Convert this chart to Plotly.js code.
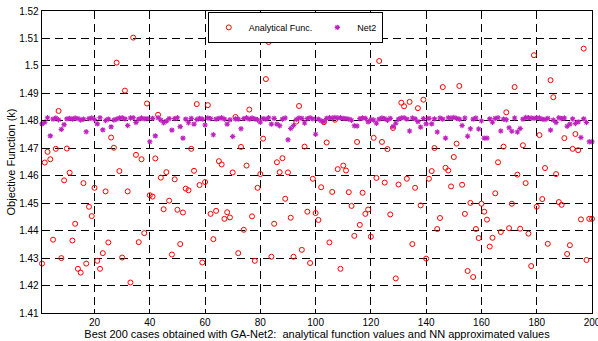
<!DOCTYPE html>
<html>
<head>
<meta charset="utf-8">
<script src="https://cdn.plot.ly/plotly-3.0.1.min.js"></script>
<style>
  html, body { margin: 0; padding: 0; background: #ffffff; }
  #chart { width: 598px; height: 341px; }
</style>
</head>
<body>
<div id="chart"></div>
<script>
// Objective function of the best 200 GA-Net2 cases: analytical values vs. NN approximation
const analyticalFunc = [
  1.4280, 1.4648, 1.4687, 1.4660, 1.4367, 1.4698, 1.4836, 1.4300, 1.4583, 1.4699,
  1.4611, 1.4364, 1.4425, 1.4261, 1.4247, 1.4573, 1.4280, 1.4487, 1.4453, 1.4556,
  1.4290, 1.4261, 1.4318, 1.4543, 1.4357, 1.4739, 1.4702, 1.5012, 1.4617, 1.4302,
  1.4910, 1.4543, 1.4211, 1.5103, 1.4676, 1.4358, 1.4660, 1.4391, 1.4863, 1.4529,
  1.4524, 1.4663, 1.4822, 1.4593, 1.4478, 1.4613, 1.4509, 1.4313, 1.4587, 1.4476,
  1.4351, 1.4466, 1.4553, 1.4547, 1.4698, 1.4618, 1.4861, 1.4566, 1.4284, 1.4577,
  1.4857, 1.4461, 1.4369, 1.4472, 1.4653, 1.4641, 1.4443, 1.4467, 1.4448, 1.4612,
  1.4814, 1.4318, 1.4705, 1.4403, 1.4637, 1.4841, 1.4452, 1.4290, 1.4556, 1.4606,
  1.4735, 1.4952, 1.5087, 1.4305, 1.4425, 1.4649, 1.4613, 1.4664, 1.4516, 1.4612,
  1.4447, 1.4305, 1.4797, 1.4854, 1.4330, 1.4706, 1.4469, 1.4282, 1.4589, 1.4464,
  1.4439, 1.4558, 1.4795, 1.4721, 1.4357, 1.4541, 1.4804, 1.4624, 1.4261, 1.4637,
  1.4619, 1.4540, 1.4490, 1.4381, 1.4723, 1.4421, 1.4538, 1.4461, 1.4477, 1.4378,
  1.4738, 1.4592, 1.5018, 1.4723, 1.4575, 1.4697, 1.4459, 1.4774, 1.4226, 1.4568,
  1.4866, 1.4853, 1.4589, 1.4869, 1.4351, 1.4556, 1.4846, 1.4492, 1.4877, 1.4298,
  1.4589, 1.4617, 1.4701, 1.4406, 1.4446, 1.4923, 1.4629, 1.4619, 1.4561, 1.4668,
  1.4717, 1.4927, 1.4567, 1.4461, 1.4253, 1.4501, 1.4231, 1.4406, 1.4373, 1.4498,
  1.4469, 1.4440, 1.4342, 1.4374, 1.4536, 1.4649, 1.4395, 1.4706, 1.4831, 1.4409,
  1.4498, 1.4923, 1.4604, 1.4407, 1.4711, 1.4573, 1.4389, 1.4271, 1.5039, 1.4487,
  1.4748, 1.4515, 1.4628, 1.4352, 1.4948, 1.4886, 1.4606, 1.4504, 1.4494, 1.4737,
  1.4315, 1.4347, 1.4698, 1.4752, 1.4693, 1.4441, 1.5063, 1.4293, 1.4443, 1.4443
];

const net2 = [
  1.4789, 1.4795, 1.4811, 1.4745, 1.4806, 1.4810, 1.4804, 1.4769, 1.4786, 1.4807,
  1.4809, 1.4806, 1.4810, 1.4808, 1.4803, 1.4806, 1.4760, 1.4808, 1.4810, 1.4805,
  1.4789, 1.4811, 1.4767, 1.4801, 1.4806, 1.4778, 1.4803, 1.4806, 1.4810, 1.4811,
  1.4807, 1.4783, 1.4810, 1.4811, 1.4794, 1.4806, 1.4810, 1.4807, 1.4808, 1.4724,
  1.4809, 1.4745, 1.4811, 1.4803, 1.4793, 1.4799, 1.4808, 1.4766, 1.4808, 1.4811,
  1.4779, 1.4737, 1.4806, 1.4793, 1.4809, 1.4788, 1.4805, 1.4809, 1.4806, 1.4785,
  1.4810, 1.4808, 1.4749, 1.4806, 1.4809, 1.4811, 1.4806, 1.4788, 1.4804, 1.4743,
  1.4807, 1.4806, 1.4771, 1.4808, 1.4811, 1.4806, 1.4810, 1.4807, 1.4804, 1.4795,
  1.4808, 1.4806, 1.4811, 1.4788, 1.4809, 1.4788, 1.4782, 1.4806, 1.4810, 1.4731,
  1.4772, 1.4783, 1.4805, 1.4810, 1.4809, 1.4792, 1.4808, 1.4811, 1.4807, 1.4751,
  1.4806, 1.4800, 1.4796, 1.4809, 1.4811, 1.4810, 1.4812, 1.4810, 1.4811, 1.4809,
  1.4808, 1.4806, 1.4802, 1.4782, 1.4781, 1.4808, 1.4810, 1.4809, 1.4796, 1.4805,
  1.4803, 1.4791, 1.4806, 1.4810, 1.4808, 1.4802, 1.4809, 1.4779, 1.4791, 1.4806,
  1.4810, 1.4811, 1.4806, 1.4763, 1.4810, 1.4807, 1.4797, 1.4777, 1.4808, 1.4789,
  1.4809, 1.4789, 1.4807, 1.4759, 1.4810, 1.4806, 1.4737, 1.4811, 1.4810, 1.4812,
  1.4809, 1.4806, 1.4783, 1.4810, 1.4744, 1.4771, 1.4806, 1.4810, 1.4770, 1.4800,
  1.4737, 1.4737, 1.4807, 1.4795, 1.4809, 1.4811, 1.4763, 1.4806, 1.4804, 1.4775,
  1.4762, 1.4810, 1.4759, 1.4772, 1.4806, 1.4812, 1.4811, 1.4810, 1.4809, 1.4811,
  1.4810, 1.4806, 1.4805, 1.4809, 1.4766, 1.4803, 1.4794, 1.4811, 1.4808, 1.4810,
  1.4780, 1.4788, 1.4807, 1.4790, 1.4796, 1.4739, 1.4807, 1.4794, 1.4724, 1.4724
];

const xTickVals = [20, 40, 60, 80, 100, 120, 140, 160, 180, 200];
const yTickVals = [1.41, 1.42, 1.43, 1.44, 1.45, 1.46, 1.47, 1.48, 1.49, 1.5, 1.51, 1.52];
const yTickText = ['1.41', '1.42', '1.43', '1.44', '1.45', '1.46', '1.47', '1.48', '1.49', '1.5', '1.51', '1.52'];

// case numbers 1..N
const caseNo = analyticalFunc.map((_, i) => i + 1);

const FONT = 'Liberation Sans, Arial, Helvetica, sans-serif';

const traces = [
  {
    x: caseNo, y: analyticalFunc, name: 'Analytical Func.',
    type: 'scatter', mode: 'markers', cliponaxis: false,
    marker: { symbol: 'circle-open', size: 5, color: '#ff0000', line: { color: '#ff0000', width: 1 } }
  },
  {
    x: caseNo, y: net2, name: 'Net2',
    type: 'scatter', mode: 'markers', cliponaxis: false,
    marker: { symbol: 'asterisk-open', size: 4.5, color: '#c020c0', line: { color: '#c020c0', width: 1.1 } }
  }
];

const axisCommon = {
  showline: true, mirror: true, linecolor: '#000000', linewidth: 1.3,
  showgrid: true, gridcolor: '#000000', gridwidth: 1, griddash: '8px,5px',
  zeroline: false, ticks: 'inside', ticklen: 4, tickcolor: '#000000',
  ticklabeloverflow: 'allow',
  tickfont: { family: FONT, size: 10, color: '#000000' }
};

const layout = {
  width: 598, height: 341,
  margin: { l: 42, r: 6, t: 11, b: 28 },
  paper_bgcolor: '#ffffff', plot_bgcolor: '#ffffff',
  showlegend: true,
  legend: {
    orientation: 'h', x: 0.4605, y: 0.997, xanchor: 'center', yanchor: 'top',
    bgcolor: '#ffffff', bordercolor: '#000000', borderwidth: 1,
    font: { family: FONT, size: 9, color: '#000000' },
    itemwidth: 30, tracegroupgap: 0
  },
  xaxis: Object.assign({}, axisCommon, {
    range: [1, 200], tickvals: xTickVals,
    title: { text: 'Best 200 cases obtained with GA-Net2:  analytical function values and NN approximated values',
             font: { family: FONT, size: 11, color: '#000000' }, standoff: 2 }
  }),
  yaxis: Object.assign({}, axisCommon, {
    range: [1.41, 1.52], tickvals: yTickVals, ticktext: yTickText,
    title: { text: 'Objective Function (k)', font: { family: FONT, size: 11, color: '#000000' }, standoff: 1 }
  })
};

Plotly.newPlot('chart', traces, layout, { staticPlot: true, displayModeBar: false });
</script>
</body>
</html>
